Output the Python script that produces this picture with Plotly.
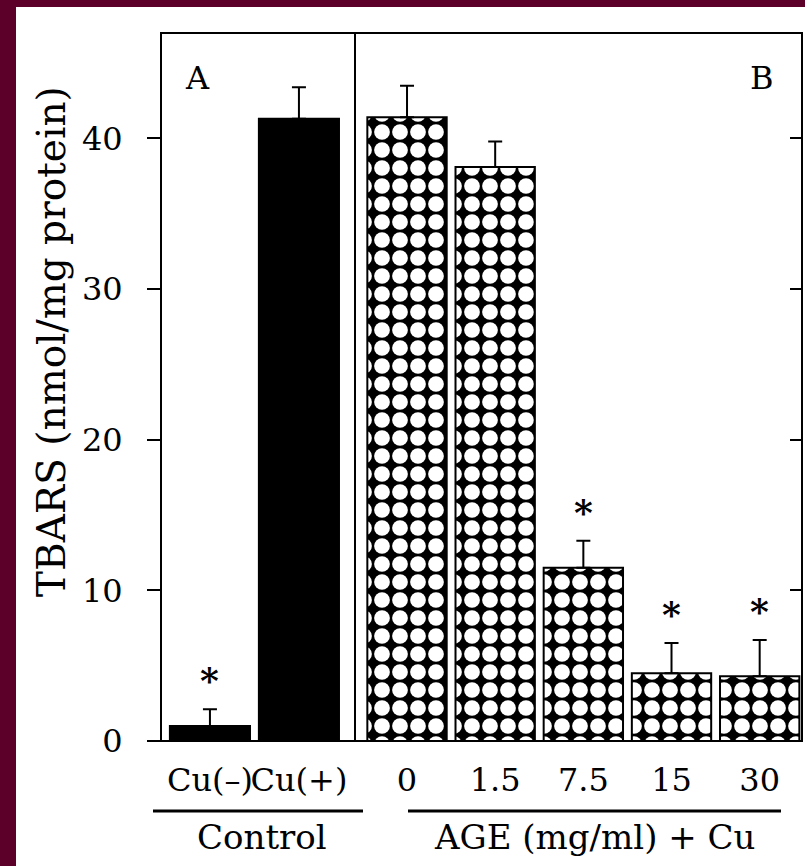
import plotly.graph_objects as go

# ---------------- data ----------------
control_labels = ["Cu(–)", "Cu(+)"]
control_values = [1.0, 41.3]
control_errors = [1.1, 2.1]
control_signif = [True, False]

age_labels = ["0", "1.5", "7.5", "15", "30"]
age_values = [41.4, 38.1, 11.5, 4.5, 4.3]
age_errors = [2.1, 1.7, 1.8, 2.0, 2.4]
age_signif = [False, False, True, True, True]

y_ticks = [0, 10, 20, 30, 40]
right_ticks = [10, 20, 30, 40]
group_labels = ["Control", "AGE (mg/ml) + Cu"]
panel_labels = ["A", "B"]
y_title = "TBARS (nmol/mg protein)"

# ---------------- geometry (pixels) ----------------
W, H = 805, 866
L, R, T, B = 161, 802, 33, 741
SPLIT = 355


def px(x):
    return (x - L) / (R - L)


def py(y):
    return (B - y) / (B - T)


FONT = "DejaVu Serif"
MAROON = "#5d0029"

err_style = dict(type="data", symmetric=False, color="black", thickness=2, width=7)

fig = go.Figure()

fig.add_trace(go.Bar(
    x=control_labels, y=control_values, xaxis="x", yaxis="y", width=0.9,
    marker=dict(color="black", line=dict(color="black", width=2)),
    error_y=dict(array=control_errors, arrayminus=[0] * len(control_errors), **err_style),
    showlegend=False, hoverinfo="skip",
))

# cross-hatch: white holes on a black lattice
fig.add_trace(go.Bar(
    x=age_labels, y=age_values, xaxis="x2", yaxis="y", width=0.9,
    marker=dict(color="black", line=dict(color="black", width=2),
                pattern=dict(shape=".", fgcolor="white", bgcolor="black", fgopacity=1,
                             size=18, solidity=0.6, fillmode="replace")),
    error_y=dict(array=age_errors, arrayminus=[0] * len(age_errors), **err_style),
    showlegend=False, hoverinfo="skip",
))

# helper trace so the right-hand (inside ticks) axis is drawn
fig.add_trace(go.Scatter(
    x=age_labels[:1], y=[0], xaxis="x2", yaxis="y2", mode="markers",
    marker=dict(opacity=0), showlegend=False, hoverinfo="skip",
))

annotations = []
for labels, vals, errs, sig, xr in [
    (control_labels, control_values, control_errors, control_signif, "x"),
    (age_labels, age_values, age_errors, age_signif, "x2"),
]:
    for i, (v, e, s) in enumerate(zip(vals, errs, sig)):
        if s:
            annotations.append(dict(
                x=i, y=v + e, xref=xr, yref="y", yshift=29, text="<b>*</b>",
                showarrow=False, font=dict(family=FONT, size=36, color="black"),
                xanchor="center", yanchor="middle",
            ))

annotations.append(dict(
    x=px(52), y=py(342), xref="paper", yref="paper", text=y_title, textangle=-90,
    showarrow=False, font=dict(family=FONT, size=39, color="black"),
    xanchor="center", yanchor="middle",
))
for lab, xp in zip(panel_labels, [197, 762]):
    annotations.append(dict(
        x=px(xp), y=py(78), xref="paper", yref="paper", text=lab, showarrow=False,
        font=dict(family=FONT, size=32, color="black"), xanchor="center", yanchor="middle",
    ))
for lab, xc in zip(group_labels, [262, 594]):
    annotations.append(dict(
        x=px(xc), y=py(837), xref="paper", yref="paper", text=lab, showarrow=False,
        font=dict(family=FONT, size=34, color="black"), xanchor="center", yanchor="middle",
    ))

shapes = [
    # white page over maroon background
    dict(type="rect", xref="paper", yref="paper", x0=px(16), x1=px(820), y0=py(900), y1=py(7),
         fillcolor="white", line=dict(width=0), layer="below"),
    # frame
    dict(type="rect", xref="paper", yref="paper", x0=0, x1=1, y0=0, y1=1,
         line=dict(color="black", width=2)),
    # panel divider
    dict(type="line", xref="paper", yref="paper", x0=px(SPLIT), x1=px(SPLIT), y0=0, y1=1,
         line=dict(color="black", width=2)),
    # group underlines
    dict(type="line", xref="paper", yref="paper", x0=px(153), x1=px(363), y0=py(811), y1=py(811),
         line=dict(color="black", width=3)),
    dict(type="line", xref="paper", yref="paper", x0=px(408), x1=px(781), y0=py(811), y1=py(811),
         line=dict(color="black", width=3)),
]

tickfont = dict(family=FONT, size=32, color="black")

fig.update_layout(
    width=W, height=H,
    margin=dict(l=L, r=W - R, t=T, b=H - B, pad=0, autoexpand=False),
    paper_bgcolor=MAROON, plot_bgcolor="white",
    barmode="group",
    xaxis=dict(domain=[0, px(SPLIT)], range=[-0.55, 1.63], type="category", anchor="y",
               showline=False, ticks="", showgrid=False, zeroline=False, tickangle=0,
               automargin=False, tickfont=tickfont, ticklabelstandoff=17),
    xaxis2=dict(domain=[px(SPLIT), 1], range=[-0.59, 4.48], type="category", anchor="y",
                showline=False, ticks="", showgrid=False, zeroline=False, tickangle=0,
                automargin=False, tickfont=tickfont, ticklabelstandoff=17),
    yaxis=dict(range=[0, 47], tickvals=y_ticks, ticks="outside", ticklen=13, tickwidth=2,
               tickcolor="black", showline=False, showgrid=False, zeroline=False,
               automargin=False, tickfont=tickfont, anchor="x", ticklabelstandoff=18),
    yaxis2=dict(range=[0, 47], overlaying="y", side="right", anchor="x2", tickvals=right_ticks,
                ticks="inside", ticklen=12, tickwidth=2, tickcolor="black", automargin=False,
                showticklabels=False, showgrid=False, zeroline=False, showline=False),
    annotations=annotations,
    shapes=shapes,
    font=dict(family=FONT, color="black"),
)

fig.write_html("out.html", config={"displayModeBar": False},
               post_script="document.body.style.margin='0px';")
